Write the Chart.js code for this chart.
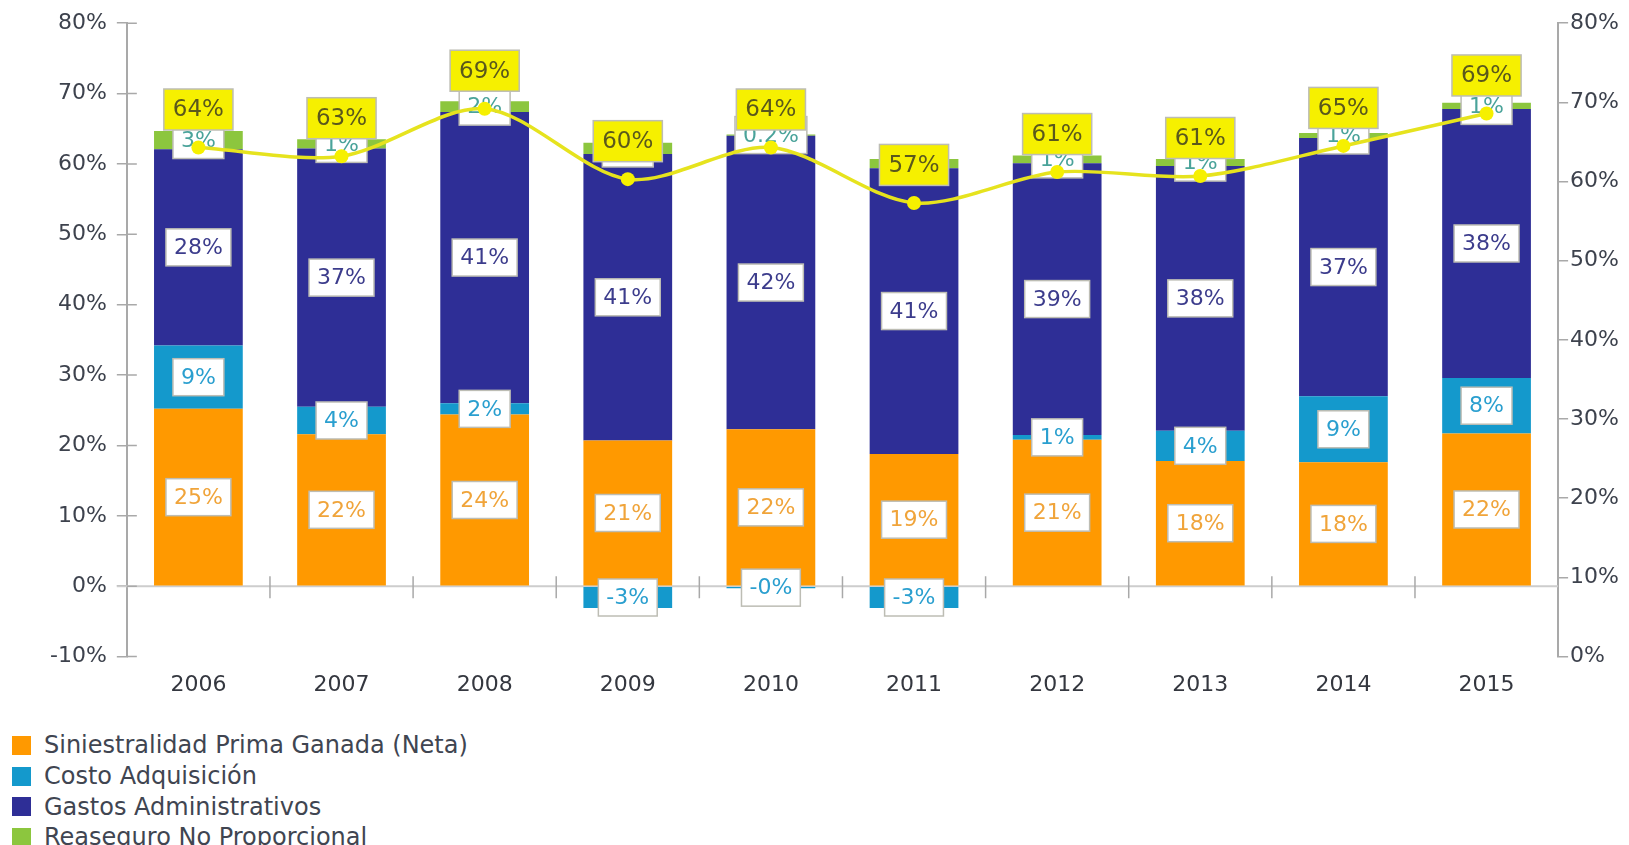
<!DOCTYPE html>
<html>
<head>
<meta charset="utf-8">
<title>Siniestralidad y gastos</title>
<script src="https://cdn.jsdelivr.net/npm/chart.js@4.4.1/dist/chart.umd.min.js"></script>
<style>
  body { margin: 0; background: #fff; overflow: hidden; }
  .wadah { position: relative; width: 1629px; height: 705px; }
  .legenda { position: absolute; left: 12px; top: 730px; font-family: "DejaVu Sans"; font-size: 24px; color: #404551; }
  .legenda div { height: 30.7px; display: flex; align-items: center; white-space: nowrap; }
  .legenda span { display: inline-block; width: 19px; height: 19px; margin-right: 13px; }
</style>
</head>
<body>
<div class="wadah"><canvas id="grafik"></canvas></div>
<div class="legenda" id="legenda"></div>
<script>
// data per tahun (nilai dalam %)
const tahun = ['2006', '2007', '2008', '2009', '2010', '2011', '2012', '2013', '2014', '2015'];
const siniestralidad = [25.2, 21.6, 24.4, 20.7, 22.3, 18.8, 20.8, 17.8, 17.6, 21.7];
const costoAdquisicion = [9.0, 3.9, 1.6, -3.1, -0.3, -3.1, 0.7, 4.3, 9.4, 7.9];
const gastosAdministrativos = [27.9, 36.7, 41.4, 40.7, 41.7, 40.6, 38.6, 37.6, 36.7, 38.2];
const reaseguro = [2.6, 1.3, 1.5, 1.6, 0.2, 1.3, 1.1, 1.0, 0.7, 0.9];
const total = [64.3, 63.2, 69.2, 60.3, 64.3, 57.3, 61.2, 60.7, 64.5, 68.6];
const ticksKiri = [-10, 0, 10, 20, 30, 40, 50, 60, 70, 80];
const ticksKanan = [0, 10, 20, 30, 40, 50, 60, 70, 80];

const seri = [
  { nama: 'Siniestralidad Prima Ganada (Neta)', data: siniestralidad, warna: '#ff9900', teks: '#f0a43a' },
  { nama: 'Costo Adquisición', data: costoAdquisicion, warna: '#1499cc', teks: '#2a9fcf' },
  { nama: 'Gastos Administrativos', data: gastosAdministrativos, warna: '#2e2e96', teks: '#3c3c8c' },
  { nama: 'Reaseguro No Proporcional', data: reaseguro, warna: '#8cc63e', teks: '#4aa39a' }
];

const huruf = '"DejaVu Sans", sans-serif';
const garisAbu = '#a9a9a9';

function persen(v) {
  if (v > 0 && v < 0.5) return v.toFixed(1) + '%';
  const r = Math.round(v);
  if (r === 0 && v < 0) return '-0%';
  return r + '%';
}

function kotak(ctx, teks, cx, cy, h, pad, isi, warnaTeks) {
  const w = ctx.measureText(teks).width + pad * 2;
  ctx.fillStyle = isi;
  ctx.fillRect(cx - w / 2, cy - h / 2, w, h);
  ctx.strokeStyle = '#bdbdb4';
  ctx.lineWidth = 1.5;
  ctx.strokeRect(cx - w / 2, cy - h / 2, w, h);
  ctx.fillStyle = warnaTeks;
  ctx.fillText(teks, cx, cy + 1);
}

// garis nol, tanda kategori dan label data
const hiasan = {
  id: 'hiasan',
  beforeDatasetsDraw(chart) {
    const ctx = chart.ctx, a = chart.chartArea, x = chart.scales.x, y = chart.scales.y;
    const y0 = y.getPixelForValue(0);
    ctx.save();
    ctx.strokeStyle = '#cdcdcd';
    ctx.lineWidth = 2;
    ctx.beginPath();
    ctx.moveTo(a.left - 10, y0);
    ctx.lineTo(a.right, y0);
    ctx.stroke();
    ctx.strokeStyle = '#c2c2c2';
    ctx.lineWidth = 1.5;
    ctx.beginPath();
    for (let i = 1; i < tahun.length; i++) {
      const bx = (x.getPixelForValue(i - 1) + x.getPixelForValue(i)) / 2;
      ctx.moveTo(bx, y0 - 10);
      ctx.lineTo(bx, y0 + 12);
    }
    // bagian dalam tick sumbu kiri
    ctx.strokeStyle = garisAbu;
    ticksKiri.forEach(v => {
      const ty = y.getPixelForValue(v);
      ctx.moveTo(a.left, ty);
      ctx.lineTo(a.left + 10, ty);
    });
    ctx.stroke();
    ctx.restore();
  },
  beforeDatasetDraw(chart, args) {
    if (args.index !== seri.length) return;
    const ctx = chart.ctx;
    ctx.save();
    ctx.font = '22px ' + huruf;
    ctx.textAlign = 'center';
    ctx.textBaseline = 'middle';
    seri.forEach((s, i) => {
      chart.getDatasetMeta(i).data.forEach((bar, j) => {
        const cy = (bar.y + bar.base) / 2;
        kotak(ctx, persen(s.data[j]), bar.x, cy, 37, 8, '#ffffff', s.teks);
      });
    });
    ctx.restore();
  },
  afterDatasetsDraw(chart) {
    const ctx = chart.ctx;
    ctx.save();
    ctx.font = '23px ' + huruf;
    ctx.textAlign = 'center';
    ctx.textBaseline = 'middle';
    chart.getDatasetMeta(seri.length).data.forEach((p, j) => {
      kotak(ctx, persen(total[j]), p.x, p.y - 38, 41, 9, '#f6f000', '#5a581c');
    });
    ctx.restore();
  }
};

const datasets = seri.map(s => ({
  type: 'bar',
  label: s.nama,
  data: s.data,
  backgroundColor: s.warna,
  yAxisID: 'y',
  order: 1,
  categoryPercentage: 1,
  barPercentage: 0.62
}));
datasets.push({
  type: 'line',
  label: 'Total',
  data: total,
  yAxisID: 'y1',
  order: 0,
  borderColor: '#e6e31e',
  borderWidth: 3.5,
  tension: 0.3,
  pointRadius: 7,
  pointBackgroundColor: '#f6f000',
  pointBorderWidth: 0
});

const ctx = document.getElementById('grafik').getContext('2d');
const grafik = new Chart(ctx, {
  data: { labels: tahun, datasets: datasets },
  options: {
    responsive: true,
    maintainAspectRatio: false,
    animation: false,
    layout: { padding: { top: 6, left: 40, right: 8, bottom: 0 } },
    plugins: { legend: { display: false }, tooltip: { enabled: false } },
    scales: {
      x: {
        stacked: true,
        grid: { display: false },
        border: { display: false },
        ticks: { color: '#34373f', font: { family: huruf, size: 22 }, padding: 7 }
      },
      y: {
        stacked: true,
        min: -10,
        max: 80,
        afterBuildTicks: s => { s.ticks = ticksKiri.map(v => ({ value: v })); },
        ticks: { callback: v => v + '%', color: '#3d424d', font: { family: huruf, size: 22 }, padding: 10 },
        grid: { drawOnChartArea: false, tickLength: 10, color: garisAbu, lineWidth: 1.5 },
        border: { color: garisAbu, width: 2 }
      },
      y1: {
        position: 'right',
        min: 0,
        max: 80,
        afterBuildTicks: s => { s.ticks = ticksKanan.map(v => ({ value: v })); },
        ticks: { callback: v => v + '%', color: '#3d424d', font: { family: huruf, size: 22 }, padding: 2 },
        grid: { drawOnChartArea: false, tickLength: 10, color: garisAbu, lineWidth: 1.5 },
        border: { color: garisAbu, width: 2 }
      }
    }
  },
  plugins: [hiasan]
});

// legenda di bawah grafik
document.getElementById('legenda').innerHTML = seri
  .map(s => `<div><span style="background:${s.warna}"></span>${s.nama}</div>`)
  .join('');
</script>
</body>
</html>
